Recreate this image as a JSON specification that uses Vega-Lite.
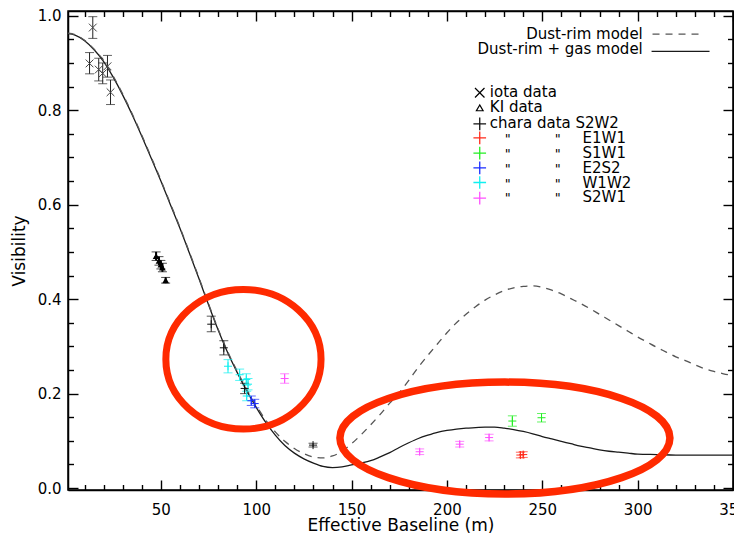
{
  "$schema": "https://vega.github.io/schema/vega-lite/v6.json",
  "width": 665,
  "height": 479,
  "autosize": "none",
  "padding": {"left": 68, "top": 11, "right": 1, "bottom": 48},
  "background": "white",
  "config": {"aria": false, "view": {"stroke": "#000000", "strokeWidth": 1.5}, "axis": {"domainColor": "#000000", "domainWidth": 1.5, "tickColor": "#000000", "tickWidth": 1.4, "grid": false}},
  "datasets": {
    "gas": [
      {"b": 1.3, "v": 0.962}, {"b": 5, "v": 0.959}, {"b": 10, "v": 0.947}, {"b": 15, "v": 0.928},
      {"b": 20, "v": 0.903}, {"b": 25, "v": 0.870}, {"b": 30, "v": 0.832}, {"b": 35, "v": 0.790},
      {"b": 40, "v": 0.745}, {"b": 45, "v": 0.698}, {"b": 50, "v": 0.650}, {"b": 55, "v": 0.600},
      {"b": 60, "v": 0.550}, {"b": 65, "v": 0.497}, {"b": 70, "v": 0.443}, {"b": 75, "v": 0.388},
      {"b": 80, "v": 0.335}, {"b": 85, "v": 0.287}, {"b": 90, "v": 0.245}, {"b": 95, "v": 0.206},
      {"b": 100, "v": 0.171}, {"b": 105, "v": 0.139}, {"b": 110, "v": 0.112}, {"b": 115, "v": 0.090},
      {"b": 120, "v": 0.074}, {"b": 125, "v": 0.062}, {"b": 130, "v": 0.053}, {"b": 135, "v": 0.046},
      {"b": 140, "v": 0.0435}, {"b": 145, "v": 0.045}, {"b": 150, "v": 0.049}, {"b": 155, "v": 0.053},
      {"b": 160, "v": 0.058}, {"b": 165, "v": 0.066}, {"b": 170, "v": 0.075}, {"b": 175, "v": 0.086},
      {"b": 180, "v": 0.096}, {"b": 185, "v": 0.105}, {"b": 190, "v": 0.112}, {"b": 195, "v": 0.118},
      {"b": 200, "v": 0.122}, {"b": 205, "v": 0.125}, {"b": 210, "v": 0.127}, {"b": 215, "v": 0.128},
      {"b": 220, "v": 0.129}, {"b": 225, "v": 0.129}, {"b": 230, "v": 0.127}, {"b": 235, "v": 0.124},
      {"b": 240, "v": 0.120}, {"b": 245, "v": 0.115}, {"b": 250, "v": 0.109}, {"b": 255, "v": 0.104},
      {"b": 260, "v": 0.099}, {"b": 265, "v": 0.094}, {"b": 270, "v": 0.089}, {"b": 275, "v": 0.085},
      {"b": 280, "v": 0.081}, {"b": 285, "v": 0.078}, {"b": 290, "v": 0.076}, {"b": 295, "v": 0.074},
      {"b": 300, "v": 0.072}, {"b": 310, "v": 0.071}, {"b": 320, "v": 0.070}, {"b": 350, "v": 0.070}
    ],
    "dust": [
      {"b": 1.3, "v": 0.963}, {"b": 5, "v": 0.960}, {"b": 10, "v": 0.948}, {"b": 15, "v": 0.929},
      {"b": 20, "v": 0.905}, {"b": 25, "v": 0.872}, {"b": 30, "v": 0.834}, {"b": 35, "v": 0.792},
      {"b": 40, "v": 0.747}, {"b": 45, "v": 0.700}, {"b": 50, "v": 0.652}, {"b": 55, "v": 0.602},
      {"b": 60, "v": 0.552}, {"b": 65, "v": 0.499}, {"b": 70, "v": 0.445}, {"b": 75, "v": 0.390},
      {"b": 80, "v": 0.337}, {"b": 85, "v": 0.289}, {"b": 90, "v": 0.248}, {"b": 95, "v": 0.209},
      {"b": 100, "v": 0.175}, {"b": 105, "v": 0.144}, {"b": 110, "v": 0.119}, {"b": 115, "v": 0.099},
      {"b": 120, "v": 0.084}, {"b": 125, "v": 0.073}, {"b": 130, "v": 0.066}, {"b": 135, "v": 0.064},
      {"b": 140, "v": 0.068}, {"b": 145, "v": 0.078}, {"b": 150, "v": 0.094}, {"b": 155, "v": 0.113},
      {"b": 160, "v": 0.134}, {"b": 165, "v": 0.156}, {"b": 170, "v": 0.180}, {"b": 175, "v": 0.202},
      {"b": 180, "v": 0.228}, {"b": 185, "v": 0.256}, {"b": 190, "v": 0.281}, {"b": 195, "v": 0.305},
      {"b": 200, "v": 0.329}, {"b": 205, "v": 0.350}, {"b": 210, "v": 0.368}, {"b": 215, "v": 0.384},
      {"b": 220, "v": 0.398}, {"b": 225, "v": 0.409}, {"b": 230, "v": 0.418}, {"b": 235, "v": 0.424},
      {"b": 240, "v": 0.427}, {"b": 245, "v": 0.428}, {"b": 250, "v": 0.425}, {"b": 255, "v": 0.419},
      {"b": 260, "v": 0.411}, {"b": 265, "v": 0.401}, {"b": 270, "v": 0.391}, {"b": 275, "v": 0.380},
      {"b": 280, "v": 0.368}, {"b": 285, "v": 0.356}, {"b": 290, "v": 0.344}, {"b": 295, "v": 0.332},
      {"b": 300, "v": 0.320}, {"b": 305, "v": 0.309}, {"b": 310, "v": 0.298}, {"b": 315, "v": 0.288},
      {"b": 320, "v": 0.278}, {"b": 325, "v": 0.270}, {"b": 330, "v": 0.261}, {"b": 335, "v": 0.253},
      {"b": 340, "v": 0.247}, {"b": 345, "v": 0.242}, {"b": 350, "v": 0.238}
    ],
    "pts": [
      {"set": "iota", "b": 14.3, "v": 0.975, "lo": 0.952, "hi": 0.998},
      {"set": "iota", "b": 12.6, "v": 0.899, "lo": 0.877, "hi": 0.922},
      {"set": "iota", "b": 17.4, "v": 0.886, "lo": 0.862, "hi": 0.910},
      {"set": "iota", "b": 19.5, "v": 0.878, "lo": 0.856, "hi": 0.900},
      {"set": "iota", "b": 22.0, "v": 0.893, "lo": 0.870, "hi": 0.916},
      {"set": "iota", "b": 23.6, "v": 0.838, "lo": 0.812, "hi": 0.864},
      {"set": "KI", "b": 47.5, "v": 0.491, "lo": 0.482, "hi": 0.500},
      {"set": "KI", "b": 49.0, "v": 0.481, "lo": 0.472, "hi": 0.490},
      {"set": "KI", "b": 50.0, "v": 0.473, "lo": 0.464, "hi": 0.482},
      {"set": "KI", "b": 50.8, "v": 0.467, "lo": 0.458, "hi": 0.476},
      {"set": "KI", "b": 52.5, "v": 0.440, "lo": 0.434, "hi": 0.446},
      {"set": "S2W2", "b": 76.4, "v": 0.347, "lo": 0.331, "hi": 0.364},
      {"set": "S2W2", "b": 83.0, "v": 0.297, "lo": 0.282, "hi": 0.312},
      {"set": "S2W2", "b": 93.9, "v": 0.211, "lo": 0.200, "hi": 0.222},
      {"set": "S2W2", "b": 129.8, "v": 0.091, "lo": 0.087, "hi": 0.095},
      {"set": "W1W2", "b": 85.2, "v": 0.258, "lo": 0.244, "hi": 0.272},
      {"set": "W1W2", "b": 91.3, "v": 0.240, "lo": 0.228, "hi": 0.252},
      {"set": "W1W2", "b": 94.8, "v": 0.230, "lo": 0.218, "hi": 0.242},
      {"set": "W1W2", "b": 95.7, "v": 0.220, "lo": 0.208, "hi": 0.232},
      {"set": "W1W2", "b": 95.0, "v": 0.195, "lo": 0.185, "hi": 0.205},
      {"set": "E2S2", "b": 97.4, "v": 0.185, "lo": 0.175, "hi": 0.195},
      {"set": "E2S2", "b": 99.2, "v": 0.179, "lo": 0.170, "hi": 0.188},
      {"set": "S2W1", "b": 114.9, "v": 0.232, "lo": 0.222, "hi": 0.242},
      {"set": "S2W1", "b": 185.7, "v": 0.077, "lo": 0.071, "hi": 0.083},
      {"set": "S2W1", "b": 206.7, "v": 0.093, "lo": 0.087, "hi": 0.099},
      {"set": "S2W1", "b": 222.1, "v": 0.107, "lo": 0.100, "hi": 0.114},
      {"set": "S1W1", "b": 234.3, "v": 0.142, "lo": 0.131, "hi": 0.153},
      {"set": "S1W1", "b": 249.6, "v": 0.149, "lo": 0.140, "hi": 0.158},
      {"set": "E1W1", "b": 238.5, "v": 0.070, "lo": 0.064, "hi": 0.076},
      {"set": "E1W1", "b": 240.0, "v": 0.071, "lo": 0.065, "hi": 0.077}
    ],
    "legRight": [
      {"b": 302.7, "v": 0.9506, "t": "Dust-rim model"},
      {"b": 302.7, "v": 0.9189, "t": "Dust-rim + gas model"}
    ],
    "legDash": [{"b": 307.8, "b2": 333.5, "v": 0.9612}],
    "legSolid": [{"b": 307.3, "b2": 337.7, "v": 0.9244}],
    "legLeft": [
      {"b": 222.5, "v": 0.829, "t": "iota data"},
      {"b": 222.5, "v": 0.797, "t": "KI data"},
      {"b": 222.5, "v": 0.762, "t": "chara data S2W2"}
    ],
    "legDitto": [
      {"b": 231.9, "v": 0.730, "t": "\""}, {"b": 258.1, "v": 0.730, "t": "\""},
      {"b": 231.9, "v": 0.6985, "t": "\""}, {"b": 258.1, "v": 0.6985, "t": "\""},
      {"b": 231.9, "v": 0.6667, "t": "\""}, {"b": 258.1, "v": 0.6667, "t": "\""},
      {"b": 231.9, "v": 0.636, "t": "\""}, {"b": 258.1, "v": 0.636, "t": "\""},
      {"b": 231.9, "v": 0.6066, "t": "\""}, {"b": 258.1, "v": 0.6066, "t": "\""}
    ],
    "legStation": [
      {"b": 271.1, "v": 0.730, "t": "E1W1"},
      {"b": 271.1, "v": 0.6985, "t": "S1W1"},
      {"b": 271.1, "v": 0.6667, "t": "E2S2"},
      {"b": 271.1, "v": 0.636, "t": "W1W2"},
      {"b": 271.1, "v": 0.6066, "t": "S2W1"}
    ],
    "legX": [{"b": 217.2, "v": 0.8369}],
    "legTri": [{"b": 217.2, "v": 0.805}],
    "legPlus": [
      {"b": 217.2, "v": 0.771, "set": "S2W2"},
      {"b": 217.2, "v": 0.7415, "set": "E1W1"},
      {"b": 217.2, "v": 0.709, "set": "S1W1"},
      {"b": 217.2, "v": 0.678, "set": "E2S2"},
      {"b": 217.2, "v": 0.647, "set": "W1W2"},
      {"b": 217.2, "v": 0.614, "set": "S2W1"}
    ],
    "ring1": [{"b": 93.3, "v": 0.2728}],
    "ring2": [{"b": 230.4, "v": 0.106}]
  },
  "layer": [
    {
      "data": {"name": "gas"},
      "mark": {"type": "line", "color": "#1a1a1a", "strokeWidth": 1.3, "interpolate": "monotone"},
      "encoding": {
        "x": {"field": "b", "type": "quantitative", "scale": {"domain": [1.3, 350], "nice": false, "zero": false},
              "axis": {"orient": "bottom", "values": [50, 100, 150, 200, 250, 300, 350], "tickSize": -10, "labelPadding": 22,
                       "labelFlush": false, "labelOverlap": false, "labelFont": "DejaVu Sans", "labelFontSize": 15, "labelColor": "#000000",
                       "title": "Effective Baseline (m)", "titleFont": "DejaVu Sans", "titleFontSize": 17, "titleFontWeight": "normal", "titleColor": "#000000", "titlePadding": 0}},
        "y": {"field": "v", "type": "quantitative", "scale": {"domain": [-0.004, 1.01], "nice": false, "zero": false},
              "axis": {"orient": "left", "values": [0, 0.2, 0.4, 0.6, 0.8, 1.0], "format": ".1f", "tickSize": -10, "labelPadding": 17,
                       "labelOverlap": false, "labelFont": "DejaVu Sans", "labelFontSize": 15, "labelColor": "#000000",
                       "title": "Visibility", "titleFont": "DejaVu Sans", "titleFontSize": 17, "titleFontWeight": "normal", "titleColor": "#000000", "titlePadding": 9}}
      }
    },
    {
      "data": {"name": "pts"},
      "mark": {"type": "rule", "strokeWidth": 1},
      "encoding": {
        "x": {"field": "b", "type": "quantitative",
              "axis": {"orient": "top", "values": [50, 100, 150, 200, 250, 300, 350], "tickSize": -10, "labels": false, "title": null}},
        "y": {"field": "lo", "type": "quantitative",
              "axis": {"orient": "right", "values": [0, 0.2, 0.4, 0.6, 0.8, 1.0], "tickSize": -10, "labels": false, "title": null}},
        "y2": {"field": "hi"},
        "color": {"field": "set", "type": "nominal", "legend": null,
                  "scale": {"domain": ["iota", "KI", "S2W2", "E1W1", "S1W1", "E2S2", "W1W2", "S2W1"],
                            "range": ["#222222", "#000000", "#111111", "#ff2a1a", "#22ee22", "#1a2cff", "#10f0f0", "#ff50ff"]}}
      }
    },
    {
      "data": {"name": "dust"},
      "mark": {"type": "line", "color": "#555555", "strokeWidth": 1.3, "strokeDash": [7, 6], "interpolate": "monotone"},
      "encoding": {
        "x": {"field": "b", "type": "quantitative",
              "axis": {"orient": "bottom", "values": [10, 20, 30, 40, 60, 70, 80, 90, 110, 120, 130, 140, 160, 170, 180, 190, 210, 220, 230, 240, 260, 270, 280, 290, 310, 320, 330, 340],
                       "tickSize": -5.5, "labels": false, "domain": false, "title": null}},
        "y": {"field": "v", "type": "quantitative",
              "axis": {"orient": "left", "values": [0.05, 0.1, 0.15, 0.25, 0.3, 0.35, 0.45, 0.5, 0.55, 0.65, 0.7, 0.75, 0.85, 0.9, 0.95],
                       "tickSize": -5.5, "labels": false, "domain": false, "title": null}}
      }
    },
    {
      "data": {"name": "pts"},
      "mark": {"type": "tick", "orient": "horizontal", "size": 9, "thickness": 1},
      "encoding": {
        "x": {"field": "b", "type": "quantitative",
              "axis": {"orient": "top", "values": [10, 20, 30, 40, 60, 70, 80, 90, 110, 120, 130, 140, 160, 170, 180, 190, 210, 220, 230, 240, 260, 270, 280, 290, 310, 320, 330, 340],
                       "tickSize": -5.5, "labels": false, "domain": false, "title": null}},
        "y": {"field": "lo", "type": "quantitative",
              "axis": {"orient": "right", "values": [0.05, 0.1, 0.15, 0.25, 0.3, 0.35, 0.45, 0.5, 0.55, 0.65, 0.7, 0.75, 0.85, 0.9, 0.95],
                       "tickSize": -5.5, "labels": false, "domain": false, "title": null}},
        "color": {"field": "set", "type": "nominal", "legend": null}
      }
    },
    {
      "data": {"name": "pts"},
      "mark": {"type": "tick", "orient": "horizontal", "size": 9, "thickness": 1},
      "encoding": {
        "x": {"field": "b", "type": "quantitative", "axis": null},
        "y": {"field": "hi", "type": "quantitative", "axis": null},
        "color": {"field": "set", "type": "nominal", "legend": null}
      }
    },
    {
      "data": {"name": "pts"},
      "transform": [{"filter": "datum.set == 'KI'"}],
      "mark": {"type": "rule", "strokeWidth": 2, "color": "#000000"},
      "encoding": {
        "x": {"field": "b", "type": "quantitative", "axis": null},
        "y": {"field": "lo", "type": "quantitative", "axis": null},
        "y2": {"field": "hi"}
      }
    },
    {
      "data": {"name": "pts"},
      "transform": [{"filter": "datum.set == 'iota'"}],
      "mark": {"type": "point", "shape": "M -1 -1 L 1 1 M -1 1 L 1 -1", "size": 60, "filled": false, "strokeWidth": 1, "color": "#444444", "opacity": 1},
      "encoding": {
        "x": {"field": "b", "type": "quantitative", "axis": null},
        "y": {"field": "v", "type": "quantitative", "axis": null}
      }
    },
    {
      "data": {"name": "pts"},
      "transform": [{"filter": "datum.set == 'KI'"}],
      "mark": {"type": "point", "shape": "triangle-up", "size": 45, "filled": true, "color": "#000000", "opacity": 1},
      "encoding": {
        "x": {"field": "b", "type": "quantitative", "axis": null},
        "y": {"field": "v", "type": "quantitative", "axis": null}
      }
    },
    {
      "data": {"name": "pts"},
      "transform": [{"filter": "datum.set != 'iota' && datum.set != 'KI'"}],
      "mark": {"type": "point", "shape": "M -1 0 L 1 0 M 0 -1 L 0 1", "size": 64, "filled": false, "strokeWidth": 1, "opacity": 1},
      "encoding": {
        "x": {"field": "b", "type": "quantitative", "axis": null},
        "y": {"field": "v", "type": "quantitative", "axis": null},
        "color": {"field": "set", "type": "nominal", "legend": null}
      }
    },
    {
      "data": {"name": "legDash"},
      "mark": {"type": "rule", "color": "#555555", "strokeWidth": 1.3, "strokeDash": [7, 6]},
      "encoding": {
        "x": {"field": "b", "type": "quantitative", "axis": null},
        "x2": {"field": "b2"},
        "y": {"field": "v", "type": "quantitative", "axis": null}
      }
    },
    {
      "data": {"name": "legSolid"},
      "mark": {"type": "rule", "color": "#1a1a1a", "strokeWidth": 1.3},
      "encoding": {
        "x": {"field": "b", "type": "quantitative", "axis": null},
        "x2": {"field": "b2"},
        "y": {"field": "v", "type": "quantitative", "axis": null}
      }
    },
    {
      "data": {"name": "legRight"},
      "mark": {"type": "text", "align": "right", "baseline": "alphabetic", "font": "DejaVu Sans", "fontSize": 15, "color": "#000000"},
      "encoding": {
        "x": {"field": "b", "type": "quantitative", "axis": null},
        "y": {"field": "v", "type": "quantitative", "axis": null},
        "text": {"field": "t"}
      }
    },
    {
      "data": {"name": "legLeft"},
      "mark": {"type": "text", "align": "left", "baseline": "alphabetic", "font": "DejaVu Sans", "fontSize": 15, "color": "#000000"},
      "encoding": {
        "x": {"field": "b", "type": "quantitative", "axis": null},
        "y": {"field": "v", "type": "quantitative", "axis": null},
        "text": {"field": "t"}
      }
    },
    {
      "data": {"name": "legDitto"},
      "mark": {"type": "text", "align": "center", "baseline": "alphabetic", "font": "DejaVu Sans", "fontSize": 13, "color": "#000000"},
      "encoding": {
        "x": {"field": "b", "type": "quantitative", "axis": null},
        "y": {"field": "v", "type": "quantitative", "axis": null},
        "text": {"field": "t"}
      }
    },
    {
      "data": {"name": "legStation"},
      "mark": {"type": "text", "align": "left", "baseline": "alphabetic", "font": "DejaVu Sans", "fontSize": 15, "color": "#000000"},
      "encoding": {
        "x": {"field": "b", "type": "quantitative", "axis": null},
        "y": {"field": "v", "type": "quantitative", "axis": null},
        "text": {"field": "t"}
      }
    },
    {
      "data": {"name": "legX"},
      "mark": {"type": "point", "shape": "M -1 -1 L 1 1 M -1 1 L 1 -1", "size": 90, "filled": false, "strokeWidth": 1.2, "color": "#000000", "opacity": 1},
      "encoding": {
        "x": {"field": "b", "type": "quantitative", "axis": null},
        "y": {"field": "v", "type": "quantitative", "axis": null}
      }
    },
    {
      "data": {"name": "legTri"},
      "mark": {"type": "point", "shape": "triangle-up", "size": 45, "filled": false, "strokeWidth": 1.2, "color": "#000000", "opacity": 1},
      "encoding": {
        "x": {"field": "b", "type": "quantitative", "axis": null},
        "y": {"field": "v", "type": "quantitative", "axis": null}
      }
    },
    {
      "data": {"name": "legPlus"},
      "mark": {"type": "point", "shape": "M -1 0 L 1 0 M 0 -1 L 0 1", "size": 160, "filled": false, "strokeWidth": 1.3, "opacity": 1},
      "encoding": {
        "x": {"field": "b", "type": "quantitative", "axis": null},
        "y": {"field": "v", "type": "quantitative", "axis": null},
        "color": {"field": "set", "type": "nominal", "legend": null}
      }
    },
    {
      "data": {"name": "ring1"},
      "mark": {"type": "point", "shape": "M -1 0 C -1 -0.4965 -0.5523 -0.899 0 -0.899 C 0.5523 -0.899 1 -0.4965 1 0 C 1 0.4965 0.5523 0.899 0 0.899 C -0.5523 0.899 -1 0.4965 -1 0 Z",
               "size": 24087, "filled": false, "strokeWidth": 7, "color": "#ff2a00", "opacity": 1},
      "encoding": {
        "x": {"field": "b", "type": "quantitative", "axis": null},
        "y": {"field": "v", "type": "quantitative", "axis": null}
      }
    },
    {
      "data": {"name": "ring2"},
      "mark": {"type": "point", "shape": "M -1 0 C -1 -0.1872 -0.5523 -0.339 0 -0.339 C 0.5523 -0.339 1 -0.1872 1 0 C 1 0.1872 0.5523 0.339 0 0.339 C -0.5523 0.339 -1 0.1872 -1 0 Z",
               "size": 108900, "filled": false, "strokeWidth": 7.5, "color": "#ff2a00", "opacity": 1},
      "encoding": {
        "x": {"field": "b", "type": "quantitative", "axis": null},
        "y": {"field": "v", "type": "quantitative", "axis": null}
      }
    }
  ],
  "resolve": {"axis": {"x": "independent", "y": "independent"}}
}
